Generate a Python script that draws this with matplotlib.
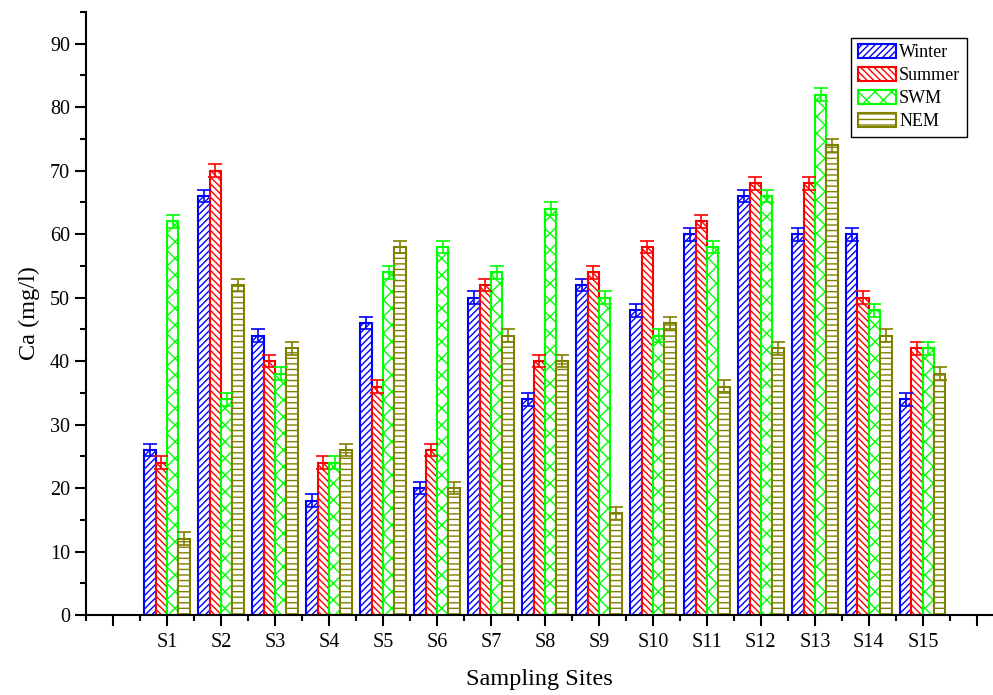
import numpy as np
import matplotlib
matplotlib.use("Agg")
import matplotlib.pyplot as plt
from matplotlib.ticker import MultipleLocator

plt.rcParams['font.family'] = ['Liberation Serif', 'DejaVu Serif']
plt.rcParams['hatch.linewidth'] = 1.0

# data
sites = ['S1', 'S2', 'S3', 'S4', 'S5', 'S6', 'S7', 'S8', 'S9', 'S10',
         'S11', 'S12', 'S13', 'S14', 'S15']
winter = [26, 66, 44, 18, 46, 20, 50, 34, 52, 48, 60, 66, 60, 60, 34]
summer = [24, 70, 40, 24, 36, 26, 52, 40, 54, 58, 62, 68, 68, 50, 42]
swm    = [62, 34, 38, 24, 54, 58, 54, 64, 50, 44, 58, 66, 82, 48, 42]
nem    = [12, 52, 42, 26, 58, 20, 44, 40, 16, 46, 36, 42, 74, 44, 38]
err = 1.0

series = [('Winter', winter, 'blue', '/////'),
          ('Summer', summer, 'red', '\\\\\\\\\\'),
          ('SWM', swm, '#00ff00', 'xx'),
          ('NEM', nem, '#808000', '---')]

fig = plt.figure(figsize=(9.93, 6.95), dpi=100)
ax = fig.add_axes([0.0866, 0.1151, 0.9134, 0.8676])

x = np.arange(1, len(sites) + 1)
w = 0.21
for k, (name, vals, col, hatch) in enumerate(series):
    pos = x + (k - 1.5) * w
    ax.bar(pos, vals, width=w, facecolor='white', edgecolor=col, hatch=hatch,
           linewidth=1.5, label=name, zorder=2)
    ax.errorbar(pos, vals, yerr=err, fmt='none', ecolor=col, elinewidth=1.2,
                capsize=5, capthick=1.2, zorder=3)

ax.set_xlim(-0.5, 16.3)
ax.set_ylim(0, 95)
ax.set_xticks(np.arange(0, 17))
ax.set_xticklabels([''] + sites + [''])
ax.xaxis.set_minor_locator(MultipleLocator(0.5))
ax.yaxis.set_major_locator(MultipleLocator(10))
ax.yaxis.set_minor_locator(MultipleLocator(5))

ax.spines['top'].set_visible(False)
ax.spines['right'].set_visible(False)
ax.spines['left'].set_linewidth(1.5)
ax.spines['bottom'].set_linewidth(1.5)
ax.tick_params(which='major', direction='out', length=8, width=1.5, labelsize=14.5)
ax.tick_params(which='minor', direction='out', length=4, width=1.5)
ax.tick_params(axis='x', pad=5)

ax.set_xlabel('Sampling Sites', fontsize=17.5, labelpad=12)
ax.set_ylabel('Ca (mg/l)', fontsize=17.5, labelpad=7)

leg = ax.legend(loc='upper right', bbox_to_anchor=(0.971, 0.957), fontsize=13,
                fancybox=False, edgecolor='black', framealpha=1,
                handlelength=2.1, handleheight=0.8, handletextpad=0.2,
                labelspacing=0.32, borderpad=0.35, borderaxespad=0.0)
leg.get_frame().set_linewidth(1.0)

fig.savefig('out.png', dpi=100)
